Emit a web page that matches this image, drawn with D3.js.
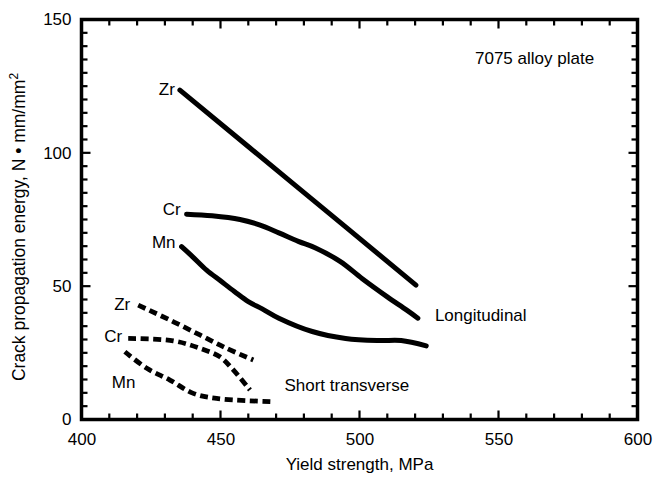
<!DOCTYPE html>
<meta charset="utf-8">
<style>
    body {
        margin: 0;
        background: #fff;
    }
    svg {
        font-family: "Liberation Sans", Arial, sans-serif;
    }
    text {
        fill: #000;
    }
    line.tk {
        stroke: #000;
        stroke-width: 2.2;
    }
    .curve {
        fill: none;
        stroke: #000;
        stroke-linecap: round;
        stroke-linejoin: round;
    }
    .curve.long {
        stroke-width: 5;
    }
    .curve.short {
        stroke-width: 4.8;
        stroke-dasharray: 8, 4.5;
        stroke-linecap: butt;
    }
</style>
<body>
<script src="https://cdn.jsdelivr.net/npm/d3@7"></script>
<script>

    // yield strength (MPa), crack propagation energy (N*mm/mm2)
    var longZr = [[435.4, 123.5], [477, 87.7], [520.3, 50.4]];
    var longCr = [[437.8, 77], [447, 76.4], [457, 75], [464, 73], [471, 70], [478, 66.8],
                  [484, 64.4], [493, 59.3], [501, 52.8], [510, 46], [517, 41], [521, 38]];
    var longMn = [[436, 64.8], [440, 61], [445, 56], [450, 52], [455, 48], [460, 44.2],
                  [465, 41.5], [471, 38], [483, 33], [495, 30.4], [507, 29.6], [515, 29.6],
                  [524, 27.6]];

    var shortZr = [[420.4, 42.9], [431.8, 37.3], [442.6, 31.7], [452.2, 26.7], [461.8, 22.3]];
    var shortCr = [[416.8, 30.4], [433, 29.5], [442.6, 26.7], [449.8, 23.5], [454.6, 18.6], [460.6, 11.1]];
    var shortMn = [[415.6, 25.4], [423.5, 19.2], [431.8, 14.8], [440.2, 9.8], [448.6, 7.9], [468.4, 6.7]];

    var xMajor = [400, 450, 500, 550, 600];
    var yMajor = [0, 50, 100, 150];

    var width = 654, height = 478;

    var x = d3.scaleLinear().domain([400, 600]).range([81.5, 637.5]);
    var y = d3.scaleLinear().domain([0, 150]).range([419.5, 19.5]);

    var svg = d3.select("body").append("svg")
            .attr("width", width)
            .attr("height", height);

    var xTicks = d3.range(410, 600, 10);
    var yTicks = d3.range(5, 150, 5);
    function tickLen(v) { return v % 50 ? 6 : 9; }

    // tick labels via d3 axes (no tick marks)
    var xAxis = svg.append("g").attr("transform", "translate(0," + y(0) + ")")
            .call(d3.axisBottom(x).tickValues(xMajor).tickSize(0).tickPadding(13));
    var yAxis = svg.append("g").attr("transform", "translate(" + x(400) + ",0)")
            .call(d3.axisLeft(y).tickValues(yMajor).tickSize(0).tickPadding(10));
    [xAxis, yAxis].forEach(function(g) {
        g.select(".domain").remove();
        g.selectAll("text").attr("font-size", 17).attr("font-family", null).attr("fill", "#000");
    });

    // frame
    svg.append("rect")
            .attr("x", x(400)).attr("y", y(150))
            .attr("width", x(600) - x(400)).attr("height", y(0) - y(150))
            .attr("fill", "none").attr("stroke", "#000").attr("stroke-width", 3.5);

    // inward ticks on all four sides
    var tk = svg.append("g");
    tk.selectAll("line.bx").data(xTicks).enter().append("line").attr("class", "tk")
            .attr("x1", x).attr("x2", x)
            .attr("y1", y(0)).attr("y2", function(d) { return y(0) - tickLen(d); });
    tk.selectAll("line.tx").data(xTicks).enter().append("line").attr("class", "tk")
            .attr("x1", x).attr("x2", x)
            .attr("y1", y(150)).attr("y2", function(d) { return y(150) + tickLen(d); });
    tk.selectAll("line.ly").data(yTicks).enter().append("line").attr("class", "tk")
            .attr("y1", y).attr("y2", y)
            .attr("x1", x(400) - 1).attr("x2", function(d) { return x(400) + tickLen(d); });
    tk.selectAll("line.ry").data(yTicks).enter().append("line").attr("class", "tk")
            .attr("y1", y).attr("y2", y)
            .attr("x1", x(600)).attr("x2", function(d) { return x(600) - tickLen(d); });

    var line = d3.line()
            .x(function(d) { return x(d[0]); })
            .y(function(d) { return y(d[1]); })
            .curve(d3.curveCatmullRom);

    var series = [
        {data: longZr, cls: "long", name: "Zr", dx: -5, dy: -1, anchor: "end"},
        {data: longCr, cls: "long", name: "Cr", dx: -6, dy: -5, anchor: "end"},
        {data: longMn, cls: "long", name: "Mn", dx: -6, dy: -5, anchor: "end"},
        {data: shortZr, cls: "short", name: "Zr", dx: -8, dy: -1, anchor: "end"},
        {data: shortCr, cls: "short", name: "Cr", dx: -6, dy: -2, anchor: "end"},
        {data: shortMn, cls: "short", name: "Mn", dx: -13, dy: 30, anchor: "start"}
    ];

    svg.selectAll("path.curve").data(series).enter().append("path")
            .attr("class", function(d) { return "curve " + d.cls; })
            .attr("d", function(d) { return line(d.data); });

    svg.selectAll("text.series").data(series).enter().append("text")
            .attr("class", "series")
            .attr("font-size", 17)
            .attr("text-anchor", function(d) { return d.anchor; })
            .attr("x", function(d) { return x(d.data[0][0]) + d.dx; })
            .attr("y", function(d) { return y(d.data[0][1]) + d.dy; })
            .attr("dy", "0.35em")
            .text(function(d) { return d.name; });

    svg.append("text").attr("font-size", 17)
            .attr("x", x(521) + 17).attr("y", y(38) - 3).attr("dy", "0.35em")
            .text("Longitudinal");

    svg.append("text").attr("font-size", 17)
            .attr("x", x(473)).attr("y", y(12.9)).attr("dy", "0.35em")
            .text("Short transverse");

    svg.append("text").attr("font-size", 17)
            .attr("x", 475).attr("y", 64)
            .text("7075 alloy plate");

    // axis titles
    svg.append("text").attr("font-size", 17)
            .attr("text-anchor", "middle")
            .attr("x", (x(400) + x(600)) / 2).attr("y", 470)
            .text("Yield strength, MPa");

    var yTitle = svg.append("text").attr("font-size", 17.5)
            .attr("text-anchor", "middle")
            .attr("transform", "translate(25," + 227 + ") rotate(-90)");
    yTitle.append("tspan").text("Crack propagation energy, N \u2022 mm/mm");
    yTitle.append("tspan").attr("font-size", 12).attr("dy", "-0.55em").text("2");

</script>
